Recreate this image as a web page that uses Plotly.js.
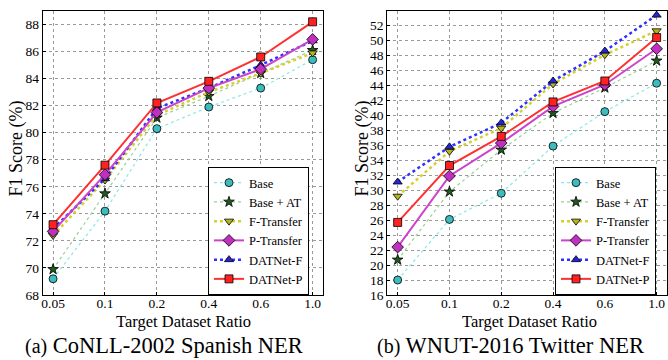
<!DOCTYPE html>
<html><head><meta charset="utf-8">
<script src="https://cdn.plot.ly/plotly-3.0.1.min.js"></script>
<style>html,body{margin:0;padding:0;background:#fff}#c{width:668px;height:360px}</style>
</head><body><div id="c"></div>
<script>
const ratios = ['0.05','0.1','0.2','0.4','0.6','1.0'];
const seriesNames = ['Base','Base + AT','F-Transfer','P-Transfer','DATNet-F','DATNet-P'];
// CoNLL-2002 Spanish NER
const conllBase      = [69.2, 74.2, 80.3, 81.9, 83.3, 85.4];
const conllBaseAT    = [69.9, 75.5, 81.1, 82.7, 84.4, 86.1];
const conllFTransfer = [72.4, 76.5, 81.3, 83.0, 84.4, 85.9];
const conllPTransfer = [72.7, 76.9, 81.5, 83.3, 84.7, 86.9];
const conllDATNetF   = [72.9, 76.6, 81.8, 83.3, 85.0, 86.8];
const conllDATNetP   = [73.2, 77.6, 82.2, 83.8, 85.6, 88.2];
// WNUT-2016 Twitter NER
const wnutBase      = [18.0, 26.1, 29.6, 35.9, 40.5, 44.3];
const wnutBaseAT    = [20.7, 29.8, 35.4, 40.3, 43.7, 47.3];
const wnutFTransfer = [29.2, 35.2, 38.3, 44.2, 48.1, 51.3];
const wnutPTransfer = [22.4, 31.9, 36.3, 41.2, 44.1, 48.9];
const wnutDATNetF   = [31.1, 35.8, 39.0, 44.6, 48.6, 53.4];
const wnutDATNetP   = [25.7, 33.3, 37.2, 41.8, 44.6, 50.4];
const xTitle = 'Target Dataset Ratio';
const yTitle = 'F1 Score (%)';
const captions = [['(a)','CoNLL-2002 Spanish NER'], ['(b)','WNUT-2016 Twitter NER']];

const styles = [
  {lc:'#8ee6e6', lw:1.2, dash:'dot',  mc:'#3cbcbc', sym:'circle',        ms:8},
  {lc:'#98d098', lw:1.2, dash:'dot',  mc:'#1f5a1f', sym:'star',          ms:8},
  {lc:'#d4d030', lw:2.5, dash:'dot',  mc:'#b4b420', sym:'triangle-down', ms:8},
  {lc:'#cc44cc', lw:2,   dash:'solid',mc:'#c030c0', sym:'diamond',       ms:9},
  {lc:'#3030ff', lw:2.5, dash:'dot',  mc:'#2424d8', sym:'triangle-up',   ms:8},
  {lc:'#ff3030', lw:2,   dash:'solid',mc:'#ff2020', sym:'square',        ms:8}
];
const conll = [conllBase, conllBaseAT, conllFTransfer, conllPTransfer, conllDATNetF, conllDATNetP];
const wnut  = [wnutBase, wnutBaseAT, wnutFTransfer, wnutPTransfer, wnutDATNetF, wnutDATNetP];
const drawOrder = [0,1,2,4,3,5];
const traces = [];
function add(data, xa, ya, leg){
  for (const i of drawOrder){
    const s = styles[i];
    traces.push({
      x: ratios, y: data[i], xaxis: xa, yaxis: ya, name: seriesNames[i], legend: leg,
      type:'scatter', mode:'lines+markers', legendrank: i+1,
      line:{color:s.lc, width:s.lw, dash:s.dash},
      marker:{color:s.mc, symbol:s.sym, size:s.ms, line:{color:'#000', width:0.8}}
    });
  }
}
add(conll,'x','y','legend');
add(wnut,'x2','y2','legend2');

const font = {family:'"Liberation Serif", "DejaVu Serif", serif', color:'#000'};
const W = 668, H = 360, PT = 11, PH = 284;
const py = v => (PT + PH - v) / PH;   // pixel row -> paper y
function xax(d){
  return {type:'category', domain:d, range:[-0.2,5.2], showgrid:true, gridcolor:'#9a9a9a', griddash:'dot', gridwidth:1,
    showline:true, mirror:true, linecolor:'#000', linewidth:1, ticks:'inside', ticklen:3, tickcolor:'#000',
    tickfont:{...font, size:13.5}, zeroline:false, ticklabelstandoff:-4};
}
function yax(rng, dt, anchor){
  return {range:rng, dtick:dt, showgrid:true, gridcolor:'#9a9a9a', griddash:'dot', gridwidth:1,
    showline:true, mirror:true, linecolor:'#000', linewidth:1, ticks:'inside', ticklen:3, tickcolor:'#000',
    tickfont:{...font, size:13.5}, zeroline:false, anchor:anchor};
}
const legendBase = {bgcolor:'#fff', bordercolor:'#000', borderwidth:1, font:{...font, size:12.5},
  xanchor:'left', yanchor:'top', itemwidth:30, tracegroupgap:0, traceorder:'normal'};
const ann = (text, x, y, size, angle, ya) => ({text, xref:'paper', yref:'paper', x:x/W, y:py(y),
  xanchor:'center', yanchor:ya||'middle', showarrow:false, textangle:angle||0, font:{...font, size}});
const layout = {
  width:W, height:H, margin:{l:0, r:0, t:PT, b:H-PT-PH},
  paper_bgcolor:'#fff', plot_bgcolor:'#fff', font:font, showlegend:true,
  xaxis: {...xax([42.7/W, 323/W]), anchor:'y'},
  yaxis: yax([68,89], 2, 'x'),
  xaxis2:{...xax([387.3/W, 667/W]), anchor:'y2'},
  yaxis2:yax([16,53.95], 2, 'x2'),
  legend: {...legendBase, x:208/W, y:py(167)},
  legend2:{...legendBase, x:555/W, y:py(167)},
  annotations:[
    ann(xTitle, 183, 309.5, 16.5, 0, 'top'),
    ann(xTitle, 529, 309.5, 16.5, 0, 'top'),
    ann(yTitle, 16, 148.5, 18, -90),
    ann(yTitle, 362, 148.5, 18, -90),
    ann('<span style="font-size:20px">'+captions[0][0]+'</span> '+captions[0][1], 164, 359.5, 22.5, 0, 'bottom'),
    ann('<span style="font-size:20px">'+captions[1][0]+'</span> '+captions[1][1], 510.5, 359.5, 22.5, 0, 'bottom')
  ]
};
Plotly.newPlot('c', traces, layout, {displayModeBar:false, staticPlot:true});
</script></body></html>
